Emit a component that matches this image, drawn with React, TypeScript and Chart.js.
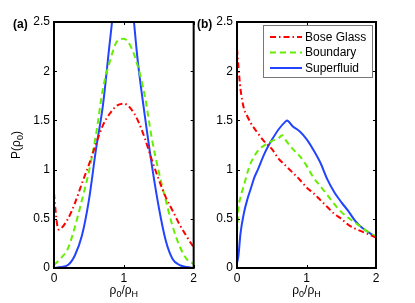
import React, { useEffect, useRef } from 'react';
import { Chart, registerables } from 'chart.js';

Chart.register(...registerables);

// ---------- data ----------
const seriesNames = ['Bose Glass', 'Boundary', 'Superfluid'];
const yTicks = [0, 0.5, 1, 1.5, 2, 2.5];
const xTicks = [0, 1, 2];

// panel (a)
const aBoseX = [0, 0.02, 0.05, 0.07, 0.1, 0.2, 0.3, 0.4, 0.5, 0.6, 0.7, 0.8, 0.9, 1.0, 1.1, 1.2, 1.3, 1.4, 1.5, 1.6, 1.7, 1.8, 1.9, 2.0];
const aBoseY = [0.76, 0.6, 0.42, 0.39, 0.4, 0.5, 0.66, 0.86, 1.05, 1.26, 1.45, 1.57, 1.65, 1.67, 1.62, 1.5, 1.32, 1.1, 0.9, 0.72, 0.58, 0.44, 0.32, 0.21];
const aGridX = [0, 0.1, 0.2, 0.3, 0.4, 0.5, 0.6, 0.7, 0.8, 0.9, 1.0, 1.1, 1.2, 1.3, 1.4, 1.5, 1.6, 1.7, 1.8, 1.9, 2.0];
const aBoundY = [0.03, 0.1, 0.2, 0.42, 0.69, 0.98, 1.35, 1.82, 2.1, 2.3, 2.33, 2.25, 2.05, 1.75, 1.32, 0.98, 0.69, 0.42, 0.22, 0.09, 0.04];
const aSuperY = [0, 0.01, 0.03, 0.13, 0.33, 0.69, 1.2, 1.65, 2.3, 2.9, 3.1, 2.8, 2.1, 1.55, 1.05, 0.62, 0.28, 0.09, 0.03, 0.01, 0];

// panel (b)
const bBoseX = [0, 0.02, 0.05, 0.1, 0.15, 0.2, 0.3, 0.4, 0.5, 0.6, 0.7, 0.8, 0.9, 1.0, 1.1, 1.2, 1.3, 1.4, 1.5, 1.6, 1.7, 1.8, 1.9, 2.0];
const bBoseY = [2.23, 2.05, 1.82, 1.62, 1.54, 1.47, 1.37, 1.28, 1.21, 1.11, 1.04, 0.97, 0.9, 0.82, 0.76, 0.69, 0.62, 0.55, 0.5, 0.44, 0.4, 0.37, 0.34, 0.31];
const bBoundX = [0, 0.02, 0.05, 0.1, 0.15, 0.2, 0.3, 0.4, 0.5, 0.6, 0.65, 0.7, 0.8, 0.9, 1.0, 1.1, 1.2, 1.3, 1.4, 1.5, 1.6, 1.7, 1.8, 1.9, 2.0];
const bBoundY = [0.36, 0.6, 0.72, 0.84, 0.97, 1.07, 1.19, 1.25, 1.29, 1.32, 1.35, 1.3, 1.21, 1.14, 1.04, 0.92, 0.83, 0.74, 0.65, 0.57, 0.51, 0.46, 0.41, 0.36, 0.32];
const bSuperX = [0, 0.02, 0.05, 0.1, 0.15, 0.2, 0.25, 0.3, 0.4, 0.5, 0.6, 0.7, 0.72, 0.8, 0.9, 1.0, 1.1, 1.2, 1.3, 1.4, 1.5, 1.6, 1.7, 1.8, 1.9, 2.0];
const bSuperY = [0.05, 0.12, 0.35, 0.56, 0.7, 0.81, 0.92, 1.0, 1.17, 1.3, 1.41, 1.49, 1.5, 1.44, 1.39, 1.31, 1.2, 1.07, 0.9, 0.77, 0.67, 0.58, 0.48, 0.41, 0.36, 0.31];

// ---------- styles ----------
const FONT = "'Liberation Sans', Arial, Helvetica, sans-serif";
const RED = '#ff0000';
const GREEN = '#66ee00';
const BLUE = '#2244ff';
const styles = [
  { color: RED, dash: [6, 3, 1.5, 3], width: 2 },
  { color: GREEN, dash: [6, 4], width: 2 },
  { color: BLUE, dash: [] as number[], width: 2 },
];

const zip = (xs: number[], ys: number[]) => xs.map((x, i) => ({ x, y: ys[i] }));

type Part = { t: string; sub?: boolean };
function richWidth(ctx: CanvasRenderingContext2D, parts: Part[], size: number, sub: number) {
  let w = 0;
  for (const p of parts) {
    ctx.font = `${p.sub ? sub : size}px ${FONT}`;
    w += ctx.measureText(p.t).width;
  }
  return w;
}
function drawRich(ctx: CanvasRenderingContext2D, parts: Part[], cx: number, baseY: number, size = 12, sub = 9) {
  const w = richWidth(ctx, parts, size, sub);
  let x = cx - w / 2;
  ctx.textAlign = 'left';
  ctx.textBaseline = 'alphabetic';
  ctx.fillStyle = '#000';
  for (const p of parts) {
    ctx.font = `${p.sub ? sub : size}px ${FONT}`;
    ctx.fillText(p.t, x, p.sub ? baseY + 3 : baseY);
    x += ctx.measureText(p.t).width;
  }
}

const xTitle: Part[] = [{ t: 'ρ' }, { t: '0', sub: true }, { t: '/ρ' }, { t: 'H', sub: true }];
const yTitle: Part[] = [{ t: 'P(ρ' }, { t: '0', sub: true }, { t: ')' }];

function makeFramePlugin(label: string, labelX: number, showYTitle: boolean, showLegend: boolean) {
  return {
    id: 'frame' + label.replace(/[()]/g, ''),
    afterDraw(chart: any) {
      const ctx: CanvasRenderingContext2D = chart.ctx;
      const a = chart.chartArea;
      const xs = chart.scales.x;
      const ys = chart.scales.y;
      ctx.save();
      // inward ticks
      ctx.strokeStyle = '#000';
      ctx.lineWidth = 1;
      ctx.beginPath();
      for (const v of yTicks) {
        const py = Math.round(ys.getPixelForValue(v)) + 0.5;
        ctx.moveTo(a.left, py); ctx.lineTo(a.left + 3, py);
        ctx.moveTo(a.right, py); ctx.lineTo(a.right - 3, py);
      }
      for (const v of xTicks) {
        const px = Math.round(xs.getPixelForValue(v)) + 0.5;
        ctx.moveTo(px, a.bottom); ctx.lineTo(px, a.bottom - 3);
        ctx.moveTo(px, a.top); ctx.lineTo(px, a.top + 3);
      }
      ctx.stroke();
      // frame
      ctx.lineWidth = 2;
      ctx.strokeRect(a.left, a.top, a.right - a.left, a.bottom - a.top);

      // panel label
      ctx.font = `bold 12px ${FONT}`;
      ctx.fillStyle = '#000';
      ctx.textAlign = 'left';
      ctx.textBaseline = 'alphabetic';
      ctx.fillText(label, labelX, 28);

      // x title
      drawRich(ctx, xTitle, (a.left + a.right) / 2, 294);

      // y title
      if (showYTitle) {
        ctx.save();
        ctx.translate(20, (a.top + a.bottom) / 2);
        ctx.rotate(-Math.PI / 2);
        drawRich(ctx, yTitle, 0, 0);
        ctx.restore();
      }

      // legend
      if (showLegend) {
        const lx = a.right - 113;
        const ly = a.top + 3;
        const lw = 109;
        const lh = 52;
        ctx.fillStyle = '#fff';
        ctx.fillRect(lx, ly, lw, lh);
        ctx.strokeStyle = '#777';
        ctx.lineWidth = 1;
        ctx.strokeRect(lx + 0.5, ly + 0.5, lw, lh);
        chart.data.datasets.forEach((ds: any, i: number) => {
          const rowY = ly + 12 + i * 15.5;
          ctx.strokeStyle = ds.borderColor;
          ctx.lineWidth = ds.borderWidth;
          ctx.setLineDash(ds.borderDash || []);
          ctx.beginPath();
          ctx.moveTo(lx + 7, rowY);
          ctx.lineTo(lx + 39, rowY);
          ctx.stroke();
          ctx.setLineDash([]);
          ctx.fillStyle = '#000';
          ctx.font = `12px ${FONT}`;
          ctx.textAlign = 'left';
          ctx.textBaseline = 'middle';
          ctx.fillText(ds.label, lx + 42, rowY + 0.5);
        });
      }
      ctx.restore();
    },
  };
}

const fmt = (v: any) => String(Number(v));

function buildConfig(series: { x: number[]; y: number[] }[], yWidth: number, padRight: number, plugin: any) {
  return {
    type: 'line' as const,
    data: {
      datasets: series.map((s, i) => ({
        label: seriesNames[i],
        data: zip(s.x, s.y),
        borderColor: styles[i].color,
        borderDash: styles[i].dash,
        borderWidth: styles[i].width,
        pointRadius: 0,
        fill: false,
        tension: 0,
        cubicInterpolationMode: 'monotone' as const,
      })),
    },
    options: {
      responsive: false,
      animation: false as const,
      devicePixelRatio: 1,
      layout: { padding: { top: 22, right: padRight, left: 0, bottom: 0 } },
      plugins: { legend: { display: false }, tooltip: { enabled: false } },
      scales: {
        x: {
          type: 'linear' as const,
          min: 0,
          max: 2,
          afterBuildTicks: (s: any) => { s.ticks = xTicks.map((v) => ({ value: v })); },
          afterFit: (s: any) => { s.height = 35; },
          grid: { display: false, drawTicks: false },
          border: { display: false },
          ticks: { color: '#000', font: { family: FONT, size: 12 }, padding: 3, maxRotation: 0, callback: fmt },
        },
        y: {
          type: 'linear' as const,
          min: 0,
          max: 2.5,
          afterBuildTicks: (s: any) => { s.ticks = yTicks.map((v) => ({ value: v })); },
          afterFit: (s: any) => { s.width = yWidth; },
          grid: { display: false, drawTicks: false },
          border: { display: false },
          ticks: { color: '#000', font: { family: FONT, size: 12 }, padding: 4, callback: fmt },
        },
      },
    },
    plugins: [plugin],
  };
}

function Panel(props: { left: number; width: number; yWidth: number; padRight: number; series: { x: number[]; y: number[] }[]; label: string; labelX: number; yTitle: boolean; legend: boolean }) {
  const ref = useRef<HTMLCanvasElement | null>(null);
  useEffect(() => {
    if (!ref.current) return;
    const plugin = makeFramePlugin(props.label, props.labelX, props.yTitle, props.legend);
    const chart = new Chart(ref.current, buildConfig(props.series, props.yWidth, props.padRight, plugin) as any);
    return () => chart.destroy();
  }, []);
  return (
    <canvas
      ref={ref}
      width={props.width}
      height={303}
      style={{ position: 'absolute', left: props.left, top: 0, width: props.width, height: 303 }}
    />
  );
}

export default function App() {
  return (
    <div style={{ position: 'fixed', left: 0, top: 0, width: 415, height: 303, background: '#fff', overflow: 'hidden' }}>
      <Panel
        left={0}
        width={200}
        yWidth={54}
        padRight={6}
        label="(a)"
        labelX={13}
        yTitle={true}
        legend={false}
        series={[
          { x: aBoseX, y: aBoseY },
          { x: aGridX, y: aBoundY },
          { x: aGridX, y: aSuperY },
        ]}
      />
      <Panel
        left={190}
        width={225}
        yWidth={47}
        padRight={39}
        label="(b)"
        labelX={7}
        yTitle={false}
        legend={true}
        series={[
          { x: bBoseX, y: bBoseY },
          { x: bBoundX, y: bBoundY },
          { x: bSuperX, y: bSuperY },
        ]}
      />
    </div>
  );
}
